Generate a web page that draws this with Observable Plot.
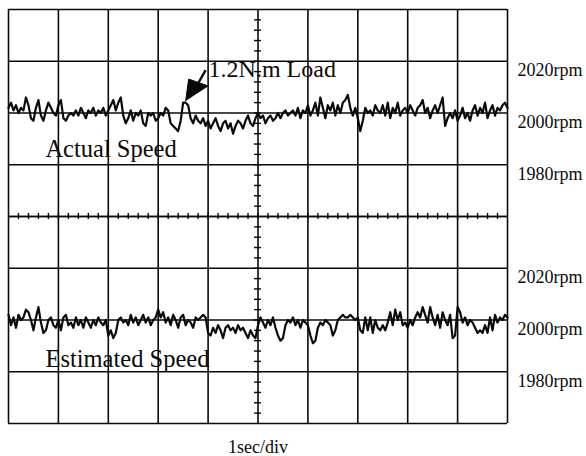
<!DOCTYPE html>
<html>
<head>
<meta charset="utf-8">
<script src="https://cdn.jsdelivr.net/npm/d3@7"></script>
<script src="https://cdn.jsdelivr.net/npm/@observablehq/plot@0.6"></script>
<style>
  html, body { margin: 0; padding: 0; background: #fff; }
  #chart { width: 586px; height: 456px; }
</style>
</head>
<body>
<div id="chart"></div>
<script>
// ---- data ----
const traces = ["Actual Speed", "Estimated Speed"];
const sampleStep = 0.05; // seconds between samples
const actualSpeed = [
  2002, 2004, 2001, 2003, 2000, 2002, 2001, 2006, 2003, 1998,
  1997, 2002, 2005, 1999, 1997, 2001, 2004, 2002, 2000, 1999,
  2003, 2005, 1998, 1997, 1999, 2000, 1999, 2001, 1999, 2002,
  2000, 1998, 2001, 2000, 2002, 1999, 2001, 2000, 2002, 1999,
  2001, 2003, 2005, 2001, 2004, 2006, 1999, 1996, 1998, 2001,
  1997, 2000, 1999, 2001, 1996, 1995, 2000, 1999, 2000, 1997,
  1998, 2000, 1999, 2002, 2001, 1996, 1995, 1994, 1993, 1997,
  2004, 2004, 2003, 1998, 1996, 1999, 1997, 1996, 1998, 1995,
  1997, 1994, 1996, 1998, 1995, 1993, 1996, 1997, 1994, 1996,
  1992, 1995, 1997, 1996, 1994, 1997, 1999, 1996, 1995, 1998,
  2000, 1998, 1999, 1996, 1998, 1999, 1997, 1998, 2000, 1998,
  2000, 2001, 1999, 2000, 2001, 1999, 2002, 1998, 2001, 2000,
  2003, 1999, 2001, 2004, 1999, 2006, 2002, 1998, 2003, 2001,
  2004, 1999, 2003, 2000, 2004, 2005, 2007, 2002, 1999, 2002,
  1998, 1993, 1997, 2002, 2000, 2001, 1999, 2003, 2001, 2000,
  2003, 1999, 2004, 1998, 2002, 2000, 2004, 1999, 2001, 2002,
  2000, 2003, 2001, 1999, 2002, 2003, 2005, 2000, 2002, 1998,
  2001, 2003, 2000, 2003, 2006, 1995, 1998, 2000, 1998, 2001,
  1997, 1999, 2002, 1998, 2000, 1997, 2001, 2003, 1999, 2002,
  2000, 2004, 1998, 2001, 2003, 1999, 2002, 2001, 2003, 2004,
  2002
];
const estimatedSpeed = [
  2002, 1998, 2001, 1997, 2002, 2000, 2001, 2004, 2003, 2000,
  1996, 2001, 2005, 1999, 1995, 1996, 2000, 2001, 1998, 1997,
  2000, 1996, 2001, 2002, 1998, 1999, 1997, 2001, 1998, 2000,
  1997, 2001, 1999, 1997, 2000, 1998, 2001, 1999, 1998, 2000,
  1994, 1996, 1993, 1995, 2000, 2001, 1999, 2000, 1998, 2002,
  1999, 2001, 1998, 2000, 2002, 1999, 2001, 1998, 2000, 2001,
  2004, 2001, 2003, 1999, 2001, 1998, 2002, 2000, 1997, 2001,
  2002, 1998, 2000, 1999, 1997, 2001, 2000, 2001, 2002, 2001,
  1995, 1994, 1997, 1995, 1998, 1996, 1993, 1997, 1998, 1996,
  1997, 1995, 1998, 1996, 1997, 1995, 1993, 1996, 1994, 1993,
  1998, 2001, 1999, 1997, 2000, 1998, 2001, 1997, 1994, 1992,
  1993, 1998, 2000, 1999, 2001, 1998, 2000, 1997, 2000, 1999,
  1998, 1994, 1991, 1992, 1997, 1999, 1998, 2000, 1999, 1998,
  1994, 1996, 2000, 2001, 2002, 2001, 2001, 2002, 2001, 2000,
  2001, 1996, 1995, 2001, 1996, 2001, 1995, 2000, 1997, 1996,
  1998, 1996, 1999, 2003, 1998, 2004, 2000, 2003, 1998, 1999,
  1997, 2000, 1998, 2001, 2003, 2001, 2005, 2002, 1999, 2005,
  2001, 1998, 2002, 1997, 2003, 2000, 1998, 2002, 1993, 1994,
  2005, 2003, 1999, 2001, 1998, 2000, 1999, 1997, 1995, 1996,
  1995, 1998, 1995, 2001, 1996, 2002, 1999, 2001, 2000, 2002,
  2001
];
const xGrid = [0, 1, 2, 3, 4, 5, 6, 7, 8, 9, 10];        // 1 sec/div
const yGrid = [1960, 1980, 2000, 2020, 2040];              // 20 rpm/div
const yLabels = [2020, 2000, 1980];
const centerTime = 5;
const xMinorTicks = d3.range(0.2, 10, 0.2);                 // 5 subdivisions per div
const yMinorTicks = d3.range(1964, 2040, 4);
const axisCaption = "1sec/div";
// annotations
const loadLabel = {trace: "Actual Speed", t: 4.01, rpm: 2013.9, text: "1.2N.m Load"};
const traceLabels = [
  {trace: "Actual Speed", t: 0.74, rpm: 1983.0, text: "Actual Speed"},
  {trace: "Estimated Speed", t: 0.74, rpm: 1981.9, text: "Estimated Speed"}
];
const arrowHeadT = [3.55, 3.61, 4.01];
const arrowHeadRpm = [2004.6, 2013.1, 2010.4];
const arrowShaftT = [3.95, 3.81];
const arrowShaftRpm = [2016.6, 2011.8];

// ---- build tables ----
const samples = [
  ...actualSpeed.map((rpm, i) => ({t: i * sampleStep, rpm, trace: traces[0]})),
  ...estimatedSpeed.map((rpm, i) => ({t: i * sampleStep, rpm, trace: traces[1]}))
];
const arrowHead = arrowHeadT.map((t, i) => ({t, rpm: arrowHeadRpm[i], trace: traces[0]}));
const arrowShaft = [{x1: arrowShaftT[0], y1: arrowShaftRpm[0], x2: arrowShaftT[1], y2: arrowShaftRpm[1], trace: traces[0]}];

const ink = "#0a0a0a";
const chart = Plot.plot({
  width: 586,
  height: 456,
  marginLeft: 8,
  marginRight: 79,
  marginTop: 8,
  marginBottom: 33,
  style: {fontFamily: "'Liberation Serif', 'Times New Roman', serif", fontSize: "18px", background: "#fff", color: ink},
  x: {domain: [0, 10], axis: null},
  y: {domain: [1960, 2040], axis: null},
  fy: {domain: traces, padding: 0, axis: null},
  marks: [
    Plot.ruleX(xGrid, {stroke: ink, strokeWidth: 1.6}),
    Plot.ruleY(yGrid, {stroke: ink, strokeWidth: 1.6}),
    Plot.ruleY(yMinorTicks, {x1: centerTime - 0.07, x2: centerTime + 0.07, stroke: ink, strokeWidth: 1.4}),
    Plot.ruleX(xMinorTicks, {y1: 1958.8, y2: 1961.2, fy: () => traces[0], stroke: ink, strokeWidth: 1.4}),
    Plot.line(samples, {x: "t", y: "rpm", fy: "trace", stroke: ink, strokeWidth: 2.2, strokeLinejoin: "round"}),
    Plot.text(yLabels, {x: 10, y: d => d, text: d => `${d}rpm`, dx: 10, dy: 2, textAnchor: "start", lineAnchor: "top", fontSize: 18, fill: ink}),
    Plot.text(traceLabels, {x: "t", y: "rpm", fy: "trace", text: "text", textAnchor: "start", lineAnchor: "bottom", fontSize: 24.5, fill: ink}),
    Plot.text([loadLabel], {x: "t", y: "rpm", fy: "trace", text: "text", textAnchor: "start", lineAnchor: "bottom", fontSize: 24, fill: ink}),
    Plot.line(arrowHead, {x: "t", y: "rpm", fy: "trace", fill: ink, stroke: ink, strokeWidth: 1}),
    Plot.link(arrowShaft, {x1: "x1", y1: "y1", x2: "x2", y2: "y2", fy: "trace", stroke: ink, strokeWidth: 2.4}),
    Plot.text([{trace: traces[1], text: axisCaption}], {x: centerTime, frameAnchor: "bottom", fy: "trace", text: "text", dy: 29, lineAnchor: "bottom", fontSize: 18, fill: ink})
  ]
});
document.getElementById("chart").append(chart);
</script>
</body>
</html>
